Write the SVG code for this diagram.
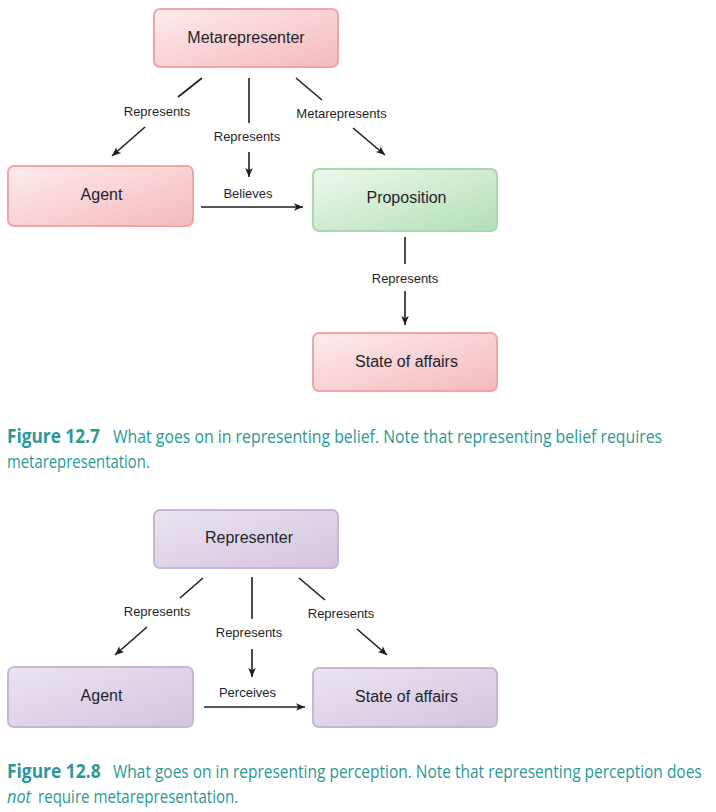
<svg xmlns="http://www.w3.org/2000/svg" width="716" height="812" viewBox="0 0 716 812">
<defs>
<linearGradient id="gPink" x1="0" y1="0" x2="1" y2="1">
<stop offset="0" stop-color="#fdeced"/>
<stop offset="1" stop-color="#f5b9bd"/>
</linearGradient>
<linearGradient id="gGreen" x1="0" y1="0" x2="1" y2="1">
<stop offset="0" stop-color="#eef8ee"/>
<stop offset="1" stop-color="#b2dfb5"/>
</linearGradient>
<linearGradient id="gPurple" x1="0" y1="0" x2="1" y2="1">
<stop offset="0" stop-color="#ebe4f0"/>
<stop offset="1" stop-color="#d4c4df"/>
</linearGradient>
<marker id="ah" viewBox="0 0 10 10" refX="10" refY="5" markerWidth="9" markerHeight="9" markerUnits="userSpaceOnUse" orient="auto">
<path d="M0,0.8 L10,5 L0,9.2 L2.5,5 z" fill="#1e1e1e"/>
</marker>
</defs>
<style>
.pink{fill:url(#gPink);stroke:#f3a4a9;stroke-width:2}
.green{fill:url(#gGreen);stroke:#a8d9ad;stroke-width:2}
.purple{fill:url(#gPurple);stroke:#c8b5d5;stroke-width:2}
.nl{font-family:"Liberation Sans",Arial,sans-serif;font-size:16px;fill:#1f1f2a;text-anchor:middle}
.el{font-family:"Liberation Sans",Arial,sans-serif;font-size:13px;fill:#1f1f2a;text-anchor:middle}
.ln{stroke:#1e1e1e;stroke-width:1.6;fill:none}
.arr{marker-end:url(#ah)}
.cap{font-family:"Open Sans","DejaVu Sans",sans-serif;font-size:19px;fill:#2a9996}
.capb{font-weight:bold}
</style>
<rect width="716" height="812" fill="#ffffff"/>

<!-- Figure 12.7 -->
<g id="metarepresenter">
<rect class="pink" x="154" y="9" width="184" height="58" rx="6"/>
<text class="nl" x="246" y="43">Metarepresenter</text>
</g>
<g id="agent1">
<rect class="pink" x="8" y="166" width="185" height="60" rx="6"/>
<text class="nl" x="101.5" y="200">Agent</text>
</g>
<g id="proposition">
<rect class="green" x="313" y="169" width="184" height="62" rx="6"/>
<text class="nl" x="406.5" y="203">Proposition</text>
</g>
<g id="stateofaffairs1">
<rect class="pink" x="313" y="333" width="184" height="58" rx="6"/>
<text class="nl" x="406.5" y="367">State of affairs</text>
</g>

<g id="connectors1">
<line class="ln" x1="202" y1="78" x2="178" y2="97"/>
<line class="ln arr" x1="145" y1="127" x2="112" y2="156"/>
<text class="el" x="157" y="116">Represents</text>

<line class="ln" x1="249" y1="78" x2="249" y2="123"/>
<line class="ln arr" x1="249" y1="152" x2="249" y2="177"/>
<text class="el" x="247" y="141">Represents</text>

<line class="ln" x1="296" y1="78" x2="322" y2="100"/>
<line class="ln arr" x1="353" y1="128" x2="385" y2="155"/>
<text class="el" x="341.5" y="118">Metarepresents</text>

<line class="ln arr" x1="201" y1="207" x2="303" y2="207"/>
<text class="el" x="248" y="198">Believes</text>

<line class="ln" x1="405" y1="237" x2="405" y2="264"/>
<line class="ln arr" x1="405" y1="291" x2="405" y2="325"/>
<text class="el" x="405" y="283">Represents</text>
</g>

<g id="caption1">
<g transform="translate(7,443) scale(0.8,1)"><text class="cap capb" x="0" y="0" textLength="116" lengthAdjust="spacingAndGlyphs">Figure 12.7</text></g>
<g transform="translate(113,443) scale(0.74,1)"><text class="cap" x="0" y="0" textLength="742" lengthAdjust="spacingAndGlyphs">What goes on in representing belief. Note that representing belief requires</text></g>
<g transform="translate(7,468) scale(0.74,1)"><text class="cap" x="0" y="0" textLength="193" lengthAdjust="spacingAndGlyphs">metarepresentation.</text></g>
</g>

<!-- Figure 12.8 -->
<g id="representer">
<rect class="purple" x="154" y="510" width="184" height="58" rx="6"/>
<text class="nl" x="249" y="543">Representer</text>
</g>
<g id="agent2">
<rect class="purple" x="8" y="667" width="185" height="60" rx="6"/>
<text class="nl" x="101.5" y="701">Agent</text>
</g>
<g id="stateofaffairs2">
<rect class="purple" x="313" y="668" width="184" height="59" rx="6"/>
<text class="nl" x="406.5" y="702">State of affairs</text>
</g>

<g id="connectors2">
<line class="ln" x1="203" y1="578" x2="180" y2="598"/>
<line class="ln arr" x1="147" y1="627" x2="115" y2="655"/>
<text class="el" x="157" y="616">Represents</text>

<line class="ln" x1="252" y1="577" x2="252" y2="619"/>
<line class="ln arr" x1="252" y1="649" x2="252" y2="677"/>
<text class="el" x="249" y="637">Represents</text>

<line class="ln" x1="299" y1="578" x2="325" y2="600"/>
<line class="ln arr" x1="357" y1="629" x2="387" y2="655"/>
<text class="el" x="341" y="618">Represents</text>

<line class="ln arr" x1="204" y1="707" x2="305" y2="707"/>
<text class="el" x="247.5" y="697">Perceives</text>
</g>

<g id="caption2">
<g transform="translate(7,778) scale(0.8,1)"><text class="cap capb" x="0" y="0" textLength="117" lengthAdjust="spacingAndGlyphs">Figure 12.8</text></g>
<g transform="translate(113,778) scale(0.75,1)"><text class="cap" x="0" y="0" textLength="785" lengthAdjust="spacingAndGlyphs">What goes on in representing perception. Note that representing perception does</text></g>
<g transform="translate(7,803) scale(0.75,1)"><text class="cap" x="0" y="0" font-style="italic" textLength="32" lengthAdjust="spacingAndGlyphs">not</text></g>
<g transform="translate(38,803) scale(0.75,1)"><text class="cap" x="0" y="0" textLength="267" lengthAdjust="spacingAndGlyphs">require metarepresentation.</text></g>
</g>
</svg>
